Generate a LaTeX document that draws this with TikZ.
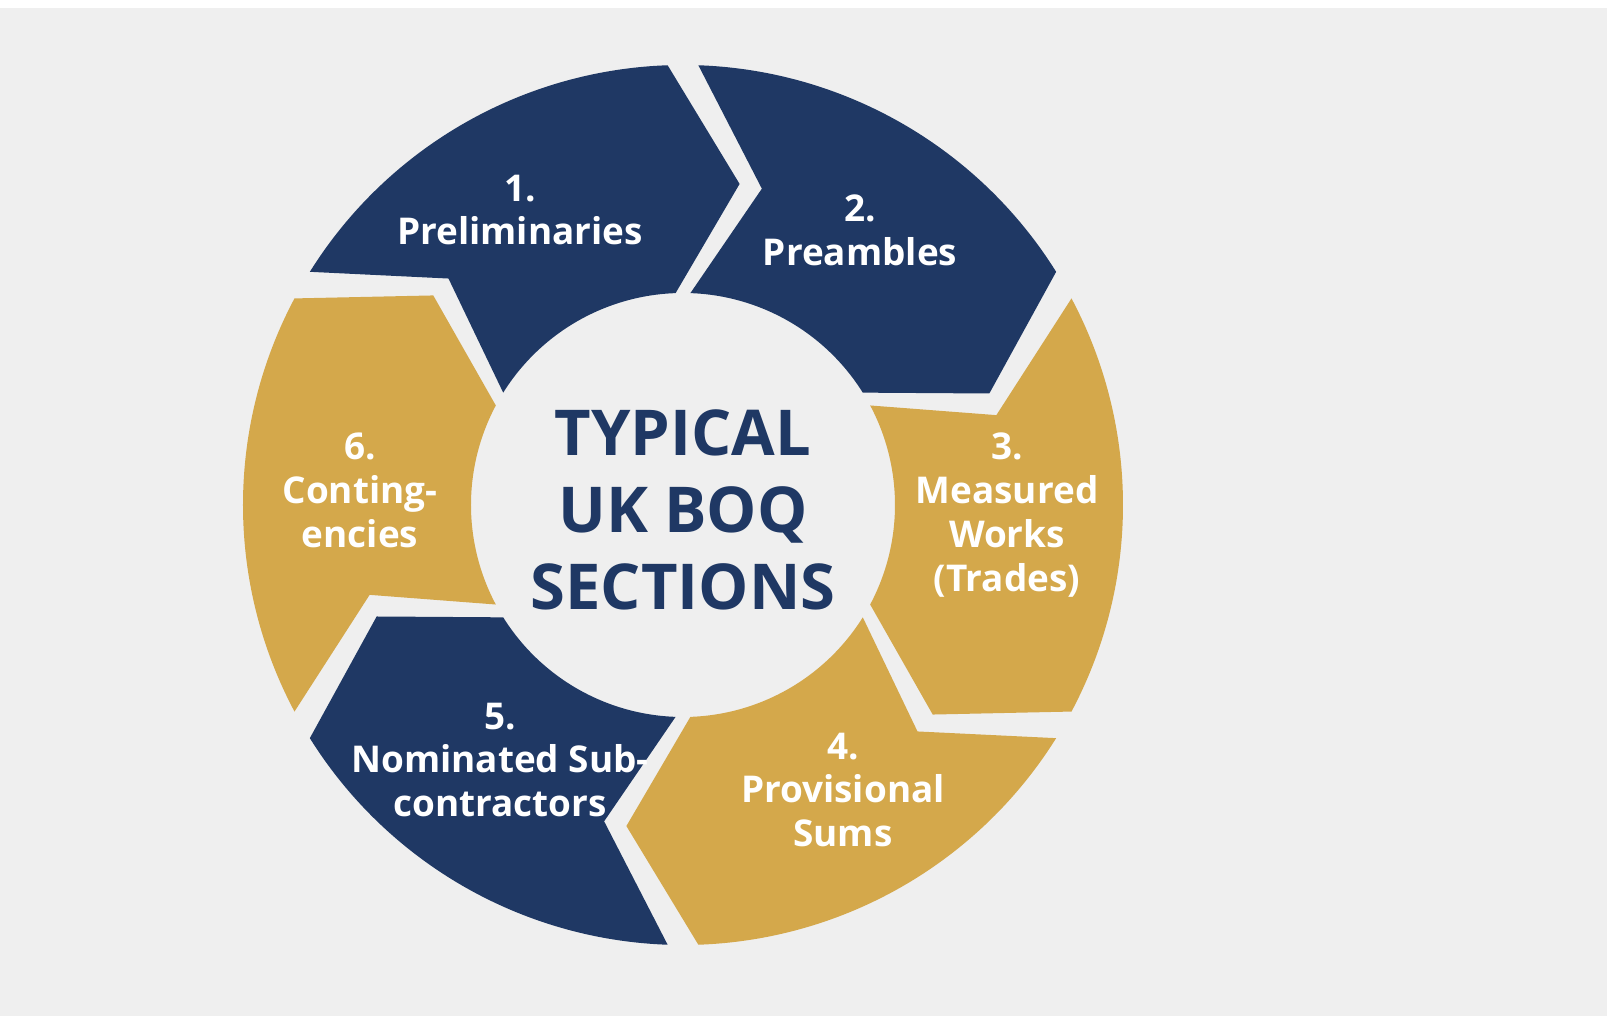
\documentclass[tikz,border=0pt]{standalone}
\usepackage{fontspec}
\setmainfont{Open Sans}
\definecolor{navy}{HTML}{1F3864}
\definecolor{gold}{HTML}{D4A84B}
\definecolor{paper}{HTML}{EFEFEF}
\begin{document}
\begin{tikzpicture}[x=0.02cm,y=0.02cm,
% common options for the labels:
lbl/.style = {text=white, align=center, font=\fontsize{21}{25}\selectfont\bfseries},
% common options for the segments:
seg/.style = {fill=#1, draw=none}]
\fill[paper] (-683,-511) rectangle (924,505);
\fill[white] (-683,497) rectangle (924,505);
\useasboundingbox (-683,-511) rectangle (924,505);
\def\R{440}\def\r{212}\def\Rm{326}\def\d{10}\def\g{2}
\foreach \a/\col in {150/navy,90/navy,30/gold,-30/gold,-90/navy,-150/gold}{
  \pgfmathsetmacro\b{\a-60}
  \fill[seg=\col] (\a-\g:\R) arc[start angle=\a-\g, end angle=\b+\g, radius=\R]
    -- (\b-\d:\Rm) -- (\b+\g:\r)
    arc[start angle=\b+\g, end angle=\a-\g, radius=\r]
    -- (\a-\d-2*\g:\Rm) -- cycle;
}
\node[align=center, text=navy, font=\fontsize{36}{44}\selectfont\bfseries] (title) at (0,-5) {TYPICAL\\UK BOQ\\SECTIONS};
\node[lbl] (l1) at (-163,295) {1.\\Preliminaries};
\node[lbl] (l2) at (177,275) {2.\\Preambles};
\node[lbl] (l3) at (324,-10) {3.\\Measured\\Works\\(Trades)};
\node[lbl] (l4) at (160,-285) {4.\\Provisional\\Sums};
\node[lbl] (l5) at (-183,-255) {5.\\Nominated Sub-\\contractors};
\node[lbl] (l6) at (-323,15) {6.\\Conting-\\encies};
\end{tikzpicture}
\end{document}
